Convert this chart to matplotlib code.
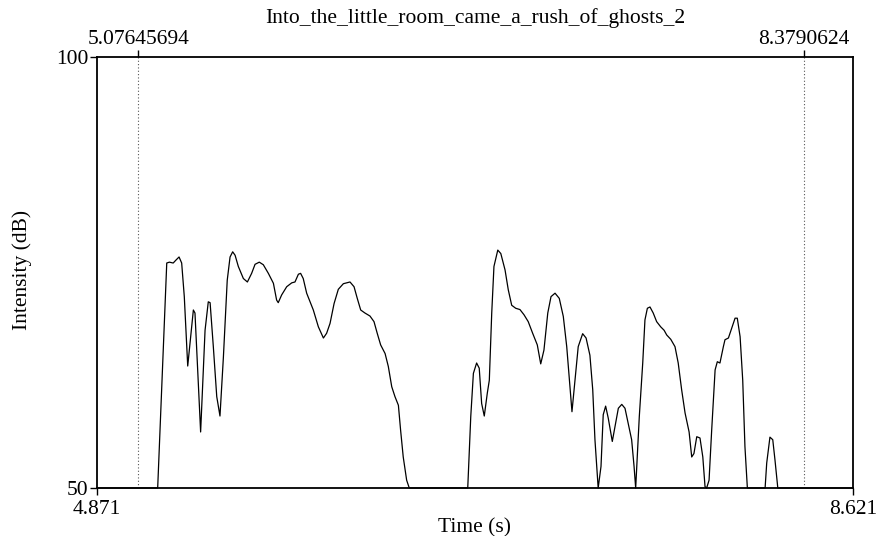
import matplotlib
matplotlib.use("Agg")
import matplotlib.pyplot as plt

title = "Into_the_little_room_came_a_rush_of_ghosts_2"
x_range = [4.871, 8.621]
y_range = [50, 100]
markers = [5.07645694, 8.3790624]
marker_labels = ["5.07645694", "8.3790624"]

time_s = [
    4.871, 5.172, 5.217, 5.230, 5.249, 5.263, 5.278, 5.291, 5.304, 5.321,
    5.349, 5.357, 5.369, 5.385, 5.407, 5.423, 5.432, 5.448, 5.465, 5.481,
    5.498, 5.517, 5.531, 5.544, 5.556, 5.572, 5.597, 5.617, 5.638, 5.655,
    5.676, 5.696, 5.721, 5.746, 5.762, 5.770, 5.787, 5.812, 5.837, 5.853,
    5.870, 5.881, 5.894, 5.911, 5.928, 5.944, 5.969, 5.994, 6.010, 6.027,
    6.047, 6.068, 6.093, 6.126, 6.146, 6.162, 6.179, 6.200, 6.225, 6.245,
    6.261, 6.278, 6.300, 6.316, 6.333, 6.349, 6.366, 6.377, 6.390, 6.407,
    6.420,
    6.710, 6.725, 6.738, 6.754, 6.767, 6.779, 6.792, 6.807, 6.817, 6.829,
    6.840, 6.859, 6.874, 6.895, 6.911, 6.928, 6.948, 6.969, 6.989, 7.010,
    7.032, 7.055, 7.072, 7.088, 7.107, 7.123, 7.143, 7.164, 7.184, 7.201,
    7.217, 7.227, 7.242, 7.258, 7.280, 7.297, 7.316, 7.330, 7.341, 7.357,
    7.371, 7.382, 7.394, 7.407, 7.427, 7.440, 7.457, 7.474, 7.490, 7.506,
    7.523, 7.535, 7.543, 7.561, 7.578, 7.589, 7.601, 7.614, 7.630, 7.647,
    7.667, 7.684, 7.697, 7.717, 7.738, 7.754, 7.771, 7.788, 7.808, 7.821,
    7.832, 7.846, 7.862, 7.876, 7.887, 7.895, 7.907, 7.920, 7.937, 7.948,
    7.961, 7.978, 7.986, 8.003, 8.019, 8.036, 8.047, 8.061, 8.074, 8.085,
    8.097, 8.185, 8.193, 8.209, 8.223, 8.234, 8.248, 8.621,
]
intensity_db = [
    50.0, 50.0, 76.1, 76.2, 76.1, 76.45, 76.8, 76.1, 72.2, 64.15,
    70.65, 70.3, 64.5, 56.5, 68.3, 71.6, 71.5, 66.4, 60.6, 58.35,
    65.2, 74.1, 76.8, 77.4, 77.0, 75.7, 74.3, 73.9, 74.9, 75.95,
    76.2, 75.9, 74.9, 73.75, 71.8, 71.5, 72.4, 73.35, 73.8, 73.9,
    74.8, 74.9, 74.3, 72.6, 71.6, 70.65, 68.7, 67.4, 67.95, 69.1,
    71.4, 73.05, 73.7, 73.9, 73.35, 72.0, 70.65, 70.3, 69.95, 69.3,
    67.95, 66.6, 65.6, 64.1, 61.75, 60.6, 59.6, 56.7, 53.6, 50.9,
    50.0,
    50.0, 58.3, 63.3, 64.5, 63.9, 59.8, 58.35, 61.0, 62.5, 70.3,
    75.7, 77.6, 77.2, 75.3, 73.0, 71.2, 70.85, 70.7, 70.1, 69.3,
    67.95, 66.6, 64.4, 66.0, 70.3, 72.2, 72.6, 72.0, 69.9, 66.4,
    61.75, 58.85, 62.5, 66.4, 67.9, 67.4, 65.4, 61.4, 55.6, 50.0,
    52.5, 58.5, 59.5, 58.1, 55.4, 57.1, 59.25, 59.7, 59.25, 57.5,
    55.6, 52.5, 50.0, 58.3, 64.5, 69.5, 70.85, 71.0, 70.3, 69.3,
    68.7, 68.3, 67.75, 67.25, 66.4, 64.5, 61.4, 58.7, 56.5, 53.6,
    54.0, 55.95, 55.8, 53.6, 50.15, 50.0, 50.9, 56.7, 63.7, 64.65,
    64.5, 66.4, 67.2, 67.4, 68.5, 69.7, 69.7, 67.55, 62.5, 54.8,
    50.0, 50.0, 52.9, 55.9, 55.6, 53.25, 50.0, 50.0,
]

plt.rcParams['font.family'] = ['Liberation Serif', 'DejaVu Serif']
FS = 15.5

fig = plt.figure(figsize=(8.77, 5.36), dpi=100)
ax = fig.add_axes([97/877, 48/536, (853-97)/877, (488-57)/536])

ax.plot(time_s, intensity_db, color='black', linewidth=0.9, clip_on=False,
        solid_joinstyle='round')
for m in markers:
    ax.axvline(m, color='#555555', linestyle=(0, (1, 2)), linewidth=0.8)

ax.set_xlim(x_range)
ax.set_ylim(y_range)
for s in ax.spines.values():
    s.set_linewidth(1.3)
ax.set_xticks(x_range)
ax.set_xticklabels(["4.871", "8.621"], fontsize=FS)
ax.set_yticks(y_range)
ax.set_yticklabels(["50", "100"], fontsize=FS)
ax.tick_params(axis='y', direction='out', length=5, width=1.0, pad=1)
ax.tick_params(axis='x', direction='out', length=5, width=1.0, pad=4)
ax.set_xlabel("Time (s)", fontsize=FS, labelpad=-1)
fig.text(22/877, 1 - 270/536, "Intensity (dB)", rotation=90, ha='center', va='center', fontsize=FS)

sec = ax.secondary_xaxis('top')
sec.set_xticks(markers)
sec.set_xticklabels(marker_labels, fontsize=FS)
sec.tick_params(direction='out', length=5, width=1.0, pad=1)
sec.spines['top'].set_visible(False)

fig.text((97+853)/2/877, 1 - 18/536, title, ha='center', va='center', fontsize=FS)

fig.savefig("out.png", dpi=100)
